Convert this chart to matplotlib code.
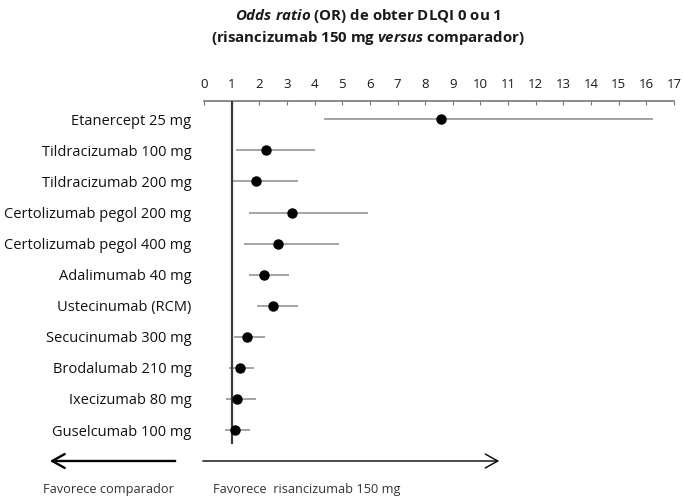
import numpy as np
import matplotlib.pyplot as plt
from matplotlib.patches import FancyArrowPatch

plt.rcParams['font.family'] = ['Open Sans', 'DejaVu Sans']
plt.rcParams['mathtext.fontset'] = 'custom'
plt.rcParams['mathtext.it'] = 'Open Sans:italic:bold'
plt.rcParams['mathtext.rm'] = 'Open Sans:bold'

# comparators, top to bottom
labels = ['Etanercept 25 mg', 'Tildracizumab 100 mg', 'Tildracizumab 200 mg',
          'Certolizumab pegol 200 mg', 'Certolizumab pegol 400 mg', 'Adalimumab 40 mg',
          'Ustecinumab (RCM)', 'Secucinumab 300 mg', 'Brodalumab 210 mg',
          'Ixecizumab 80 mg', 'Guselcumab 100 mg']
odds = [8.57, 2.25, 1.87, 3.19, 2.68, 2.18, 2.51, 1.56, 1.29, 1.19, 1.13]
ci_low = [4.35, 1.17, 0.98, 1.62, 1.43, 1.62, 1.92, 1.08, 0.90, 0.81, 0.77]
ci_high = [16.25, 4.01, 3.40, 5.92, 4.88, 3.06, 3.39, 2.21, 1.81, 1.87, 1.68]
xticks = list(range(0, 18))

fig = plt.figure(figsize=(6.83, 5), dpi=100)
ax = fig.add_axes([204/683, 1-444/500, 470/683, 343/500])

ypos = np.arange(len(labels))
ax.hlines(ypos, ci_low, ci_high, color='#8c8c8c', lw=1.1, zorder=2)
ax.axvline(1, color='#3a3a3a', lw=1.6, zorder=3)
ax.plot(odds, ypos, 'o', color='black', ms=6.5, zorder=4)

ax.set_xlim(0, 17)
ax.set_ylim(10.45, -0.59)
ax.set_xticks(xticks)
ax.xaxis.tick_top()
ax.tick_params(axis='x', direction='in', length=3, color='#777777', labelsize=9.5,
               pad=7, labelcolor='#1a1a1a')
ax.set_yticks(ypos)
ax.set_yticklabels(labels)
ax.tick_params(axis='y', length=0, pad=9, labelsize=10.5, labelcolor='#111111')
for s in ['left', 'right', 'bottom']:
    ax.spines[s].set_visible(False)
ax.spines['top'].set_color('#777777')
ax.spines['top'].set_linewidth(1.2)

fig.text(368/683, 1-16/500, r'$\it{Odds\ ratio}$ (OR) de obter DLQI 0 ou 1',
         ha='center', va='center', fontsize=10.8, fontweight='bold', color='#1a1a1a')
fig.text(368/683, 1-38/500, r'(risancizumab 150 mg $\it{versus}$ comparador)',
         ha='center', va='center', fontsize=10.8, fontweight='bold', color='#1a1a1a')

# arrows below the plot
fig.add_artist(FancyArrowPatch(
    (178/683, 1-461/500), (47/683, 1-461/500), transform=fig.transFigure,
    arrowstyle='->,head_length=9,head_width=5', color='black', lw=1.7,
    mutation_scale=1))
fig.add_artist(FancyArrowPatch(
    (200/683, 1-461/500), (502/683, 1-461/500), transform=fig.transFigure,
    arrowstyle='->,head_length=9,head_width=5', color='black', lw=1.0,
    mutation_scale=1))
fig.text(108/683, 1-490/500, 'Favorece comparador', ha='center', va='center',
         fontsize=9.2, color='#333333')
fig.text(307/683, 1-490/500, 'Favorece  risancizumab 150 mg', ha='center', va='center',
         fontsize=9.2, color='#333333')

fig.savefig('out.png', dpi=100)
